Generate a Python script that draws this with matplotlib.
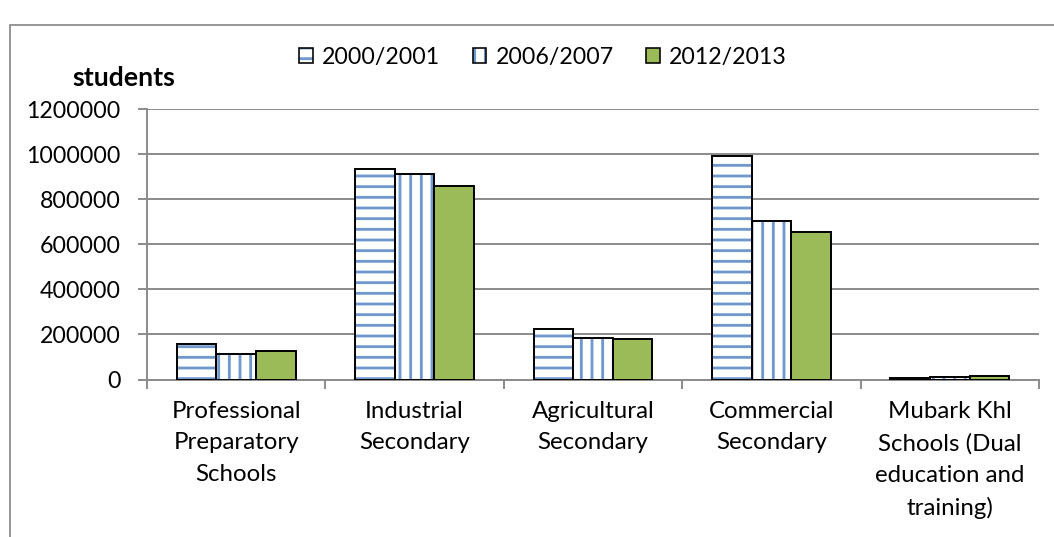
import matplotlib
matplotlib.use("Agg")
import matplotlib.pyplot as plt
from matplotlib.patches import Patch, Rectangle
import numpy as np

# ---------------------------------------------------------------------------
# Data
# ---------------------------------------------------------------------------
categories = [
    "Professional\nPreparatory\nSchools",
    "Industrial\nSecondary",
    "Agricultural\nSecondary",
    "Commercial\nSecondary",
    "Mubark Khl\nSchools (Dual\neducation and\ntraining)",
]
years = ["2000/2001", "2006/2007", "2012/2013"]
y2000 = [156000, 934000, 224000, 991000, 5000]
y2006 = [112000, 913000, 182000, 702000, 12000]
y2012 = [127000, 857000, 179000, 655000, 17000]
yticks = [0, 200000, 400000, 600000, 800000, 1000000, 1200000]

# ---------------------------------------------------------------------------
# Style
# ---------------------------------------------------------------------------
DPI = 128
W, H = 1054, 537
plt.rcParams["font.family"] = ["Lato", "DejaVu Sans"]
plt.rcParams["font.size"] = 13
plt.rcParams["hatch.linewidth"] = 1.6

blue = "#6F98CF"
green = "#9BBB59"
grid_gray = "#8C8C8C"
edge_lw = 1.1

fig = plt.figure(figsize=(W / DPI, H / DPI), dpi=DPI)
ax = fig.add_axes([147 / W, 1 - 379.5 / H, (1039 - 147) / W, (379.5 - 109) / H])

x = np.arange(len(categories)) + 0.5
bw = 0.222

# hatched layers first (blue stripes), then black outlines on top
ax.bar(x - bw, y2000, bw, facecolor="white", edgecolor=blue, linewidth=0,
       hatch="--", zorder=2)
ax.bar(x, y2006, bw, facecolor="white", edgecolor=blue, linewidth=0,
       hatch="||", zorder=2)
ax.bar(x + bw, y2012, bw, facecolor=green, edgecolor="black", linewidth=edge_lw,
       zorder=3)
ax.bar(x - bw, y2000, bw, fill=False, edgecolor="black", linewidth=edge_lw, zorder=3)
ax.bar(x, y2006, bw, fill=False, edgecolor="black", linewidth=edge_lw, zorder=3)

# axes
ax.set_xlim(0, len(categories))
ax.set_ylim(0, 1200000)
ax.set_yticks(yticks)
ax.set_yticklabels([str(v) for v in yticks])
ax.set_xticks(np.arange(len(categories) + 1))
ax.set_xticklabels([])
ax.set_xticks(x, minor=True)
ax.set_xticklabels(categories, minor=True, linespacing=1.62, fontsize=13.5)
ax.tick_params(axis="x", which="minor", length=0, pad=12)
ax.tick_params(axis="x", which="major", length=5, width=1.1, color=grid_gray)
ax.tick_params(axis="y", length=5, width=1.1, color=grid_gray, pad=10)

ax.grid(axis="y", color=grid_gray, linewidth=1.1, zorder=0)
ax.set_axisbelow(True)
for s in ["top", "right"]:
    ax.spines[s].set_visible(False)
for s in ["left", "bottom"]:
    ax.spines[s].set_color(grid_gray)
    ax.spines[s].set_linewidth(1.1)

fig.text(124 / W, 1 - 78 / H, "students", ha="center", va="center",
         fontweight="bold", fontsize=15)

# legend
h2000 = (Patch(facecolor="white", edgecolor=blue, linewidth=0, hatch="--"),
         Patch(fill=False, edgecolor="black", linewidth=0.9))
h2006 = (Patch(facecolor="white", edgecolor=blue, linewidth=0, hatch="||"),
         Patch(fill=False, edgecolor="black", linewidth=0.9))
h2012 = Patch(facecolor=green, edgecolor="black", linewidth=0.9)
fig.legend([h2000, h2006, h2012], years, loc="center",
           bbox_to_anchor=(543 / W, 1 - 57 / H), ncol=3, frameon=False,
           fontsize=13, handlelength=0.6, handleheight=0.6, handletextpad=0.4,
           columnspacing=1.4, borderpad=0)

# outer chart frame (cropped at right and bottom)
fig.patches.append(Rectangle((10 / W, -0.1), 1.2, 1.1 - 25 / H,
                             transform=fig.transFigure, fill=False,
                             edgecolor=grid_gray, linewidth=1.0))

fig.savefig("out.png", dpi=DPI)
